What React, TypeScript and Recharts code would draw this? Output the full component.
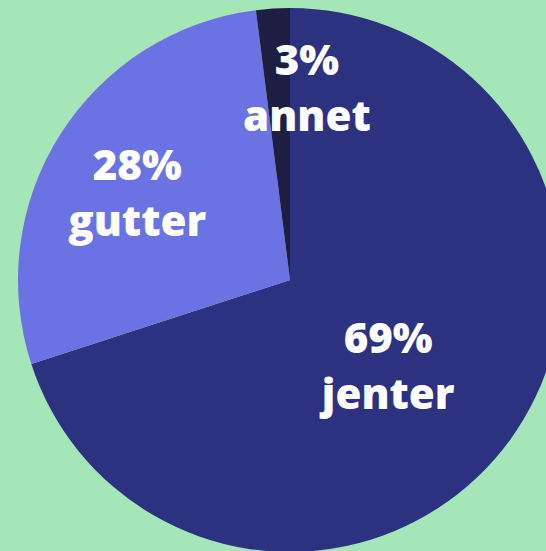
import { PieChart, Pie, Cell } from "recharts"

const categories = ["jenter", "gutter", "annet"]
const shares = [70, 28, 2]
const percentLabels = ["69%", "28%", "3%"]

const COLORS = ["#2c3180", "#6b73e4", "#1d1e42"]
const BG = "#a4e6b8"
const RADIAN = Math.PI / 180

// radial distance + small nudges for the two-line labels
const LABEL_POS = [
  { r: 130, dx: -7, dy: 9 },
  { r: 175, dx: -5, dy: 6 },
  { r: 193, dx: 29, dy: 0 },
]

const data = categories.map((name, i) => ({
  name,
  value: shares[i],
  pct: percentLabels[i],
}))

const renderLabel = (props: any) => {
  const { cx, cy, midAngle, index } = props
  const p = LABEL_POS[index]
  const x = cx + p.r * Math.cos(-midAngle * RADIAN) + p.dx
  const y = cy + p.r * Math.sin(-midAngle * RADIAN) + p.dy
  const style = {
    fontFamily: "'Open Sans', sans-serif",
    fontWeight: 800,
    fontSize: 42,
    fill: "#ffffff",
  }
  return (
    <g key={`lbl-${index}`}>
      <text x={x} y={y - 12} textAnchor="middle" style={style}>
        {data[index].pct}
      </text>
      <text x={x} y={y + 44} textAnchor="middle" style={style}>
        {data[index].name}
      </text>
    </g>
  )
}

export default function App() {
  return (
    <div
      style={{
        position: "fixed",
        left: 0,
        top: 0,
        width: 546,
        height: 551,
        background: BG,
        overflow: "hidden",
      }}
    >
      <PieChart width={546} height={551} margin={{ top: 0, right: 0, bottom: 0, left: 0 }}>
        <Pie
          data={data}
          dataKey="value"
          nameKey="name"
          cx={290}
          cy={280}
          outerRadius={272}
          innerRadius={0}
          startAngle={90}
          endAngle={-270}
          stroke="none"
          label={renderLabel}
          labelLine={false}
          isAnimationActive={false}
        >
          {data.map((d, i) => (
            <Cell key={d.name} fill={COLORS[i]} />
          ))}
        </Pie>
      </PieChart>
    </div>
  )
}
